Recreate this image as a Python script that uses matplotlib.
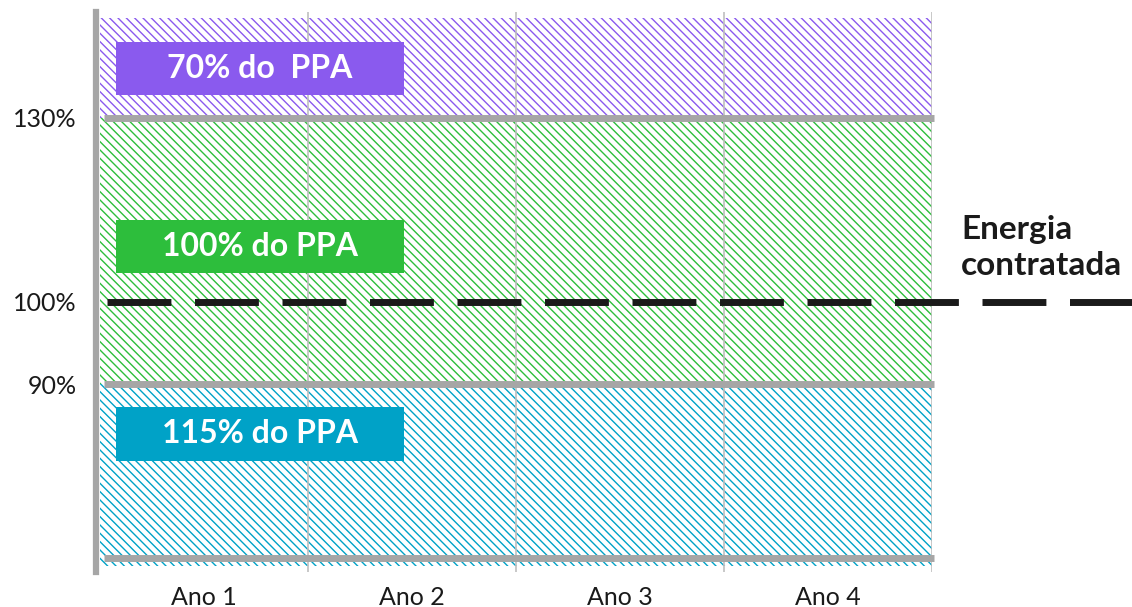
import numpy as np
import matplotlib.pyplot as plt
from matplotlib.patches import Rectangle

# les données (schéma, échelle libre)
anos = ['Ano 1', 'Ano 2', 'Ano 3', 'Ano 4']
limites_faixas = [57.0, 86.6, 130.0, 146.3]      # bas -> haut
rotulos_faixas = ['115% do PPA', '100% do PPA', '70% do  PPA']
cores_faixas = ['#00A2C7', '#2DBE3C', '#8A5AEE']
ticks_y = [86.6, 100.0, 130.0]
rotulos_y = ['90%', '100%', '130%']
energia_contratada = 100.0

plt.rcParams['font.family'] = ['Lato', 'DejaVu Sans']
plt.rcParams['hatch.linewidth'] = 1.0

fig = plt.figure(figsize=(11.32, 6.07), dpi=100)
ax = fig.add_axes([100 / 1132, 1 - 572 / 607, 832 / 1132, 560 / 607])
ax.set_xlim(0, len(anos))
ax.set_ylim(55.98, 147.28)

# axe gauche (avant les ticks, set_position les réinitialise)
for s in ['top', 'right', 'bottom']:
    ax.spines[s].set_visible(False)
ax.spines['left'].set_position(('outward', 3))
ax.spines['left'].set_color('#A6A6A6')
ax.spines['left'].set_linewidth(4.5)
ax.set_facecolor('white')

# bandes hachurées
for i in range(len(rotulos_faixas)):
    y0, y1 = limites_faixas[i], limites_faixas[i + 1]
    ax.add_patch(Rectangle((0, y0), len(anos), y1 - y0, facecolor='white',
                           edgecolor=cores_faixas[i], hatch='\\\\\\\\', lw=0, zorder=1))

# lignes verticales
for k in range(1, len(anos) + 1):
    ax.axvline(k, color='#BFBFBF', lw=1.2, zorder=2)

# lignes grises horizontales
for y in [limites_faixas[0] + 1.3, limites_faixas[1], limites_faixas[2]]:
    ax.plot([0.02, len(anos) + 0.01], [y, y], color='#A6A6A6', lw=5,
            solid_capstyle='butt', clip_on=False, zorder=3)

# étiquettes des bandes
centres = [78.5, 109.0, 138.1]
for i, txt in enumerate(rotulos_faixas):
    yc = centres[i]
    ax.add_patch(Rectangle((0.077, yc - 4.35), 1.385, 8.7, facecolor=cores_faixas[i],
                           edgecolor='none', zorder=4))
    ax.text(0.077 + 1.385 / 2, yc, txt, color='white', fontsize=23, fontweight='bold',
            ha='center', va='center', zorder=5)

# énergie contratée
ax.plot([0.034, 4.97], [energia_contratada, energia_contratada], color='#1A1A1A', lw=5,
        linestyle=(0, (9.2, 3.4)), dash_capstyle='butt', clip_on=False, zorder=6)
ax.text(4.14, 108.9, 'Energia\ncontratada', fontsize=24, fontweight='bold',
        color='#1A1A1A', ha='left', va='center', linespacing=1.3)

ax.set_xticks(np.arange(len(anos)) + 0.5)
ax.set_xticklabels(anos, fontsize=18, color='#1A1A1A')
ax.set_yticks(ticks_y)
ax.set_yticklabels(rotulos_y, fontsize=18, color='#1A1A1A')
ax.tick_params(length=0)
ax.tick_params(axis='y', pad=14)
ax.tick_params(axis='x', pad=10)

plt.savefig('out.png', dpi=100, facecolor='white')
